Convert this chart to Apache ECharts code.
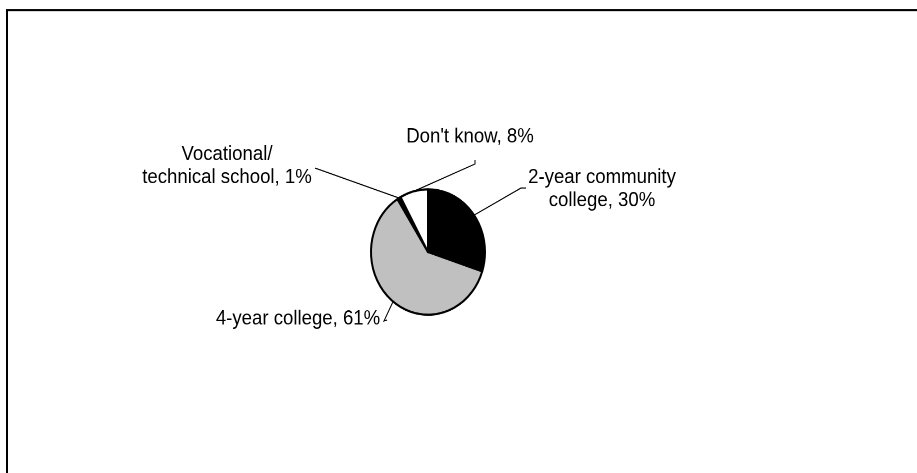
<!DOCTYPE html>
<html>
<head>
<meta charset="utf-8">
<script src="https://cdn.jsdelivr.net/npm/echarts@6/dist/echarts.min.js"></script>
<style>
html,body{margin:0;padding:0;background:#fff;overflow:hidden;}
#wrap{width:917px;height:473px;overflow:hidden;position:relative;}
#chart{width:917px;height:430px;transform:scaleY(1.1);transform-origin:0 0;}
</style>
</head>
<body>
<div id="wrap"><div id="chart"></div></div>
<script>
var categories = ['2-year community\ncollege', '4-year college', 'Vocational/\ntechnical school', "Don't know"];
var values = [30, 61, 1, 8];
var labelTexts = ['2-year community\ncollege, 30%', '4-year college, 61%', 'Vocational/\ntechnical school, 1%', "Don't know, 8%"];

var SY = 1.1; // vertical stretch of the whole picture
var sliceColors = ['#000000', '#C0C0C0', '#000000', '#FFFFFF'];
// label centre positions and label line elbows in page pixels (layout only)
var labelPos = [
  {x: 602, y: 189, elbow: [[521, 188], [526, 188]]},
  {x: 298, y: 319, elbow: [[384, 321], [387, 320]]},
  {x: 227, y: 166, elbow: [[315, 168]]},
  {x: 470, y: 137, elbow: [[475, 164], [475, 160]]}
];

var chart = echarts.init(document.getElementById('chart'), null, {renderer: 'canvas', devicePixelRatio: 2});
var data = categories.map(function (c, i) {
  return {name: c, value: values[i], itemStyle: {color: sliceColors[i]}};
});
chart.setOption({
  animation: false,
  backgroundColor: '#ffffff',
  graphic: [{
    type: 'rect',
    shape: {x: 7, y: 10 / SY, width: 1000, height: 1000},
    style: {fill: 'none', stroke: '#000', lineWidth: 2},
    silent: true
  }],
  series: [{
    type: 'pie',
    center: [428, 252 / SY],
    radius: [0, 57],
    startAngle: 90,
    clockwise: true,
    avoidLabelOverlap: false,
    data: data,
    itemStyle: {borderColor: '#000', borderWidth: 2},
    emphasis: {disabled: true},
    label: {
      show: true,
      formatter: function (p) { return labelTexts[p.dataIndex]; },
      fontFamily: 'Liberation Sans, Arial, sans-serif',
      fontSize: 18.6,
      lineHeight: 23 / SY,
      color: '#000'
    },
    labelLine: {show: true, length: 10, length2: 10, lineStyle: {color: '#000', width: 1}},
    labelLayout: function (params) {
      var lp = labelPos[params.dataIndex];
      var start = params.labelLinePoints ? params.labelLinePoints[0] : null;
      var elbow = lp.elbow.map(function (p) { return [p[0], p[1] / SY]; });
      var pts = start ? [start].concat(elbow) : null;
      return {
        x: lp.x,
        y: lp.y / SY,
        align: 'center',
        verticalAlign: 'middle',
        labelLinePoints: pts
      };
    }
  }]
});
</script>
</body>
</html>
